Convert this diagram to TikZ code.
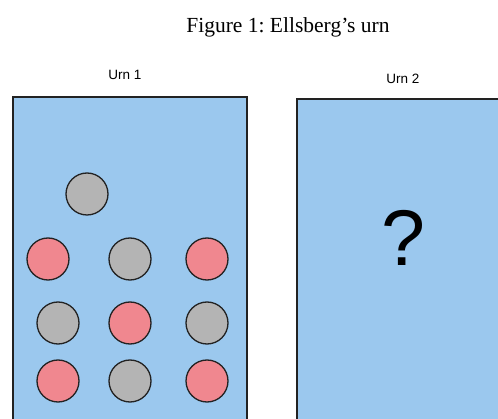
\documentclass[tikz,border=0pt]{standalone}
\usepackage{fontspec}
\setmainfont{Liberation Serif}
\setsansfont{Liberation Sans}
\frenchspacing
\definecolor{urnblue}{HTML}{9BC8EE}
\definecolor{ballred}{HTML}{F0878F}
\definecolor{ballgray}{HTML}{B4B4B4}
\definecolor{edge}{HTML}{222222}
\begin{document}
\begin{tikzpicture}[x=1pt,y=-1pt,
  urnbox/.style={draw=edge,fill=urnblue,line width=1.4pt},
  ball/.style={circle,draw=edge,line width=1.3pt,minimum size=42pt,inner sep=0pt},
  redball/.style={ball,fill=ballred},
  grayball/.style={ball,fill=ballgray},
  urnlabel/.style={font=\sffamily\fontsize{13.5}{16}\selectfont}]
\useasboundingbox (0,0) rectangle (498,419);
\clip (0,0) rectangle (498,419);
% caption
\node (title) at (288,27) {\fontsize{21.5}{25}\selectfont Figure 1: Ellsberg’s urn};
% urn labels
\node[urnlabel] (l1) at (125,75) {Urn 1};
\node[urnlabel] (l2) at (403,79) {Urn 2};
% urns
\draw[urnbox] (13,97) rectangle (247,440);
\draw[urnbox] (297,99) rectangle (520,440);
% balls in urn 1
\node[grayball] (b0) at (87,194) {};
\node[redball]  (b1) at (48,259) {};
\node[grayball] (b2) at (130,259) {};
\node[redball]  (b3) at (207,259) {};
\node[grayball] (b4) at (58,323) {};
\node[redball]  (b5) at (130,323) {};
\node[grayball] (b6) at (207,323) {};
\node[redball]  (b7) at (58,381) {};
\node[grayball] (b8) at (130,381) {};
\node[redball]  (b9) at (207,381) {};
% unknown contents of urn 2
\node[font=\sffamily\fontsize{79}{79}\selectfont] (q) at (403,238) {?};
\end{tikzpicture}
\end{document}
